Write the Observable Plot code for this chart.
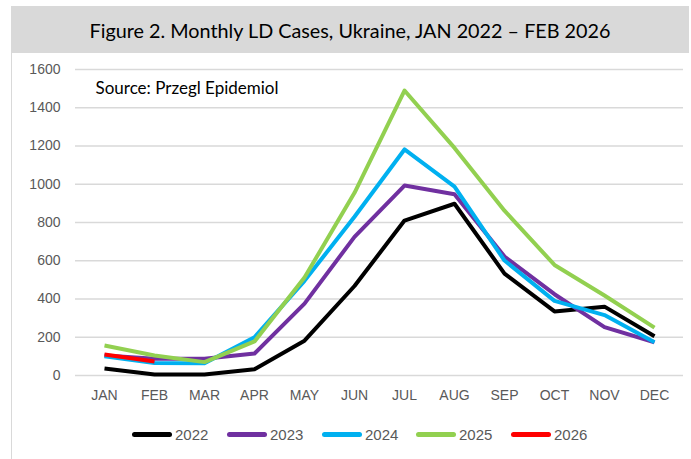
<!DOCTYPE html>
<html>
<head>
<meta charset="utf-8">
<script src="https://cdn.jsdelivr.net/npm/d3@7"></script>
<script src="https://cdn.jsdelivr.net/npm/@observablehq/plot@0.6"></script>
<style>
  html, body { margin: 0; padding: 0; background: #fff; }
  #wrap { position: relative; width: 691px; height: 459px; overflow: hidden; }
  #banner { position: absolute; left: 11px; top: 6px; width: 678px; height: 47px; background: #d9d9d9;
    font-family: Lato, "Open Sans", sans-serif; font-size: 19.8px; color: #000;
    display: flex; align-items: center; justify-content: center; }
  #leftborder { position: absolute; left: 11px; top: 53px; width: 1px; height: 406px; background: #d9d9d9; }
  #chart { position: absolute; left: 0; top: 0; }
  #legend { position: absolute; top: 426px; left: 0; width: 691px;
    font-family: "Liberation Sans", Arial, sans-serif; font-size: 15px; color: #595959; }
  .item { position: absolute; display: flex; align-items: center; }
  .sw { width: 40px; height: 5px; border-radius: 3px; margin-right: 3px; }
</style>
</head>
<body>
<div id="wrap">
  <div id="banner">Figure 2. Monthly LD Cases, Ukraine, JAN 2022 – FEB 2026</div>
  <div id="leftborder"></div>
  <div id="chart"></div>
  <div id="legend"></div>
</div>
<script>
const months = ["JAN","FEB","MAR","APR","MAY","JUN","JUL","AUG","SEP","OCT","NOV","DEC"];
const years = ["2022","2023","2024","2025","2026"];
const colors = ["#000000","#7030a0","#00b0f0","#92d050","#ff0000"];
const yTicks = [0,200,400,600,800,1000,1200,1400,1600];
const cases2022 = [37, 5, 5, 33, 182, 468, 810, 898, 533, 335, 360, 205];
const cases2023 = [105, 88, 88, 115, 376, 725, 993, 948, 622, 425, 253, 174];
const cases2024 = [101, 65, 64, 200, 495, 830, 1182, 988, 601, 390, 316, 174];
const cases2025 = [157, 105, 70, 178, 512, 955, 1490, 1190, 862, 578, 418, 250];
const cases2026 = [110, 73];
const sourceNote = "Source: Przegl Epidemiol";

const series = [cases2022, cases2023, cases2024, cases2025, cases2026];
const rows = [];
series.forEach((vals, i) => vals.forEach((v, j) => rows.push({year: years[i], month: months[j], value: v})));

const plot = Plot.plot({
  width: 691,
  height: 410,
  marginLeft: 75,
  marginRight: 8,
  marginTop: 69,
  marginBottom: 35,
  style: {fontFamily: "'Liberation Sans', Arial, sans-serif", fontSize: "14px", color: "#595959", background: "transparent"},
  x: {type: "point", domain: months, padding: 0.5, label: null},
  y: {domain: [0, 1600], ticks: yTicks, label: null},
  color: {domain: years, range: colors},
  marks: [
    Plot.gridY(yTicks, {stroke: "#d9d9d9", strokeOpacity: 1, strokeWidth: 1.5}),
    Plot.axisY(yTicks, {tickSize: 0, tickPadding: 15, fill: "#595959", label: null, tickFormat: d => String(d)}),
    Plot.axisX({tickSize: 0, tickPadding: 15, fill: "#595959", label: null}),
    Plot.line(rows, {x: "month", y: "value", z: "year", stroke: "year", strokeWidth: 4, strokeLinejoin: "round", strokeLinecap: "butt"}),
    Plot.text([sourceNote], {text: d => d, frameAnchor: "top-left", dx: 20, dy: 12, textAnchor: "start",
      fill: "#000", fontSize: 17, fontFamily: "Lato, 'Open Sans', sans-serif"})
  ]
});
document.getElementById("chart").appendChild(plot);

const legend = document.getElementById("legend");
const lx = [132, 227, 322, 416, 511];
years.forEach((y, i) => {
  const it = document.createElement("div");
  it.className = "item";
  it.style.left = lx[i] + "px";
  it.innerHTML = `<div class="sw" style="background:${colors[i]}"></div><span>${y}</span>`;
  legend.appendChild(it);
});
</script>
</body>
</html>
